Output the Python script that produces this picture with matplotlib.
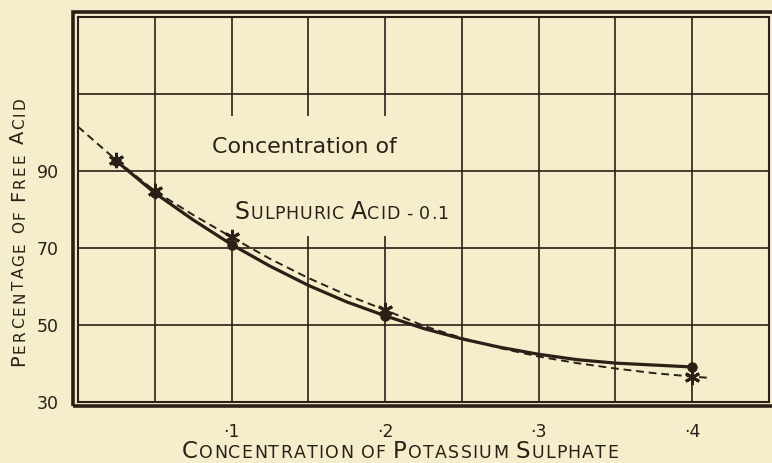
import matplotlib
matplotlib.use("Agg")
import matplotlib.pyplot as plt
from matplotlib.patches import Rectangle
from matplotlib.transforms import IdentityTransform

# ---- data -------------------------------------------------------------
# concentrations of potassium sulphate at which points were determined
conc_points = [0.025, 0.05, 0.1, 0.2, 0.4]
# observed percentage of free acid (dots, solid curve)
observed_pct = [92.6, 84.3, 70.9, 52.4, 39.1]
# calculated percentage of free acid (stars, dashed curve)
calculated_pct = [92.8, 84.8, 72.8, 53.9, 36.6]

# smooth curves drawn through the points
observed_curve_x = [0.025, 0.05, 0.075, 0.1, 0.125, 0.15, 0.175, 0.2, 0.225,
                    0.25, 0.275, 0.3, 0.325, 0.35, 0.375, 0.4]
observed_curve_y = [92.6, 84.3, 77.3, 70.9, 65.3, 60.3, 56.0, 52.4, 49.1,
                    46.4, 44.2, 42.4, 41.0, 40.1, 39.6, 39.1]
calculated_curve_x = [0.0, 0.025, 0.05, 0.075, 0.1, 0.125, 0.15, 0.175, 0.2,
                      0.225, 0.25, 0.275, 0.3, 0.325, 0.35, 0.375, 0.4, 0.41]
calculated_curve_y = [101.5, 92.8, 84.8, 78.6, 72.8, 67.2, 62.2, 57.8, 53.9,
                      49.8, 46.6, 44.0, 41.8, 40.1, 38.7, 37.5, 36.6, 36.3]

x_ticks = [0.1, 0.2, 0.3, 0.4]
x_tick_labels = ["·1", "·2", "·3", "·4"]
y_ticks = [30, 50, 70, 90]
y_tick_labels = ["30", "50", "70", "90"]

grid_x_full = [0.05, 0.25, 0.3, 0.35, 0.4]
grid_x_broken = [0.1, 0.15, 0.2]      # interrupted behind the note
grid_y = [50, 70, 90, 110]

# ---- style ------------------------------------------------------------
PAPER = "#F5EECD"
INK = "#2A2016"
FONT = "DejaVu Sans"
W, H, DPI = 772, 463, 100

fig = plt.figure(figsize=(W / DPI, H / DPI), dpi=DPI, facecolor=PAPER)
ax = fig.add_axes([78 / W, 61 / H, 691 / W, 385 / H])
ax.set_facecolor(PAPER)
ax.set_xlim(0, 0.45)
ax.set_ylim(30, 130)

# squared ruling
for gx in grid_x_full:
    ax.vlines(gx, 30, 130, color=INK, lw=1.2, zorder=1)
for gx in grid_x_broken:
    ax.vlines(gx, 30, 73, color=INK, lw=1.2, zorder=1)
    ax.vlines(gx, 104.3, 130, color=INK, lw=1.2, zorder=1)
ax.hlines(grid_y, 0, 0.45, color=INK, lw=1.2, zorder=1)

for sp in ax.spines.values():
    sp.set_color(INK)
    sp.set_linewidth(1.5)

# outer heavy border
fig.add_artist(Rectangle((73 / W, 57 / H), (780 - 73) / W, (451 - 57) / H,
                         transform=fig.transFigure, fill=False,
                         edgecolor=INK, linewidth=2.6))

# curves
ax.plot(calculated_curve_x, calculated_curve_y, color=INK, lw=1.4,
        dashes=(4, 2.5), zorder=3)
ax.plot(observed_curve_x, observed_curve_y, color=INK, lw=2.3,
        solid_joinstyle="round", solid_capstyle="round", zorder=4)
ax.plot(conc_points, observed_pct, ls="none", marker="o", ms=6.5,
        color=INK, zorder=5)
ax.plot(conc_points, calculated_pct, ls="none", marker=(6, 2, 0), ms=11,
        mew=2.1, color=INK, zorder=5)

ax.set_xticks(x_ticks, x_tick_labels)
ax.set_yticks(y_ticks, y_tick_labels)
ax.tick_params(axis="both", length=0, colors=INK, labelsize=12.5)
ax.tick_params(axis="x", pad=15)
ax.tick_params(axis="y", pad=14)
for lab in ax.get_xticklabels() + ax.get_yticklabels():
    lab.set_family(FONT)

# ---- lettering --------------------------------------------------------
renderer = fig.canvas.get_renderer()


def ink_width(s, size):
    t = fig.text(0, 0, s, fontsize=size, family=FONT)
    w = t.get_window_extent(renderer).width
    t.remove()
    return w


def caps_line(center, base, s, big, small, length, vertical=False):
    """Small-capital lettering: upper-case letters at `big`, the rest
    upper-cased at `small`, spread evenly over `length` pixels."""
    sizes = [big if ch.isupper() else small for ch in s]
    widths = []
    for ch, size in zip(s, sizes):
        if ch == " ":
            widths.append(size * DPI / 72 * 0.3)
        else:
            widths.append(ink_width(ch.upper(), size))
    gap = (length - sum(widths)) / (len(s) - 1)
    pos = center - length / 2
    for ch, size, w in zip(s, sizes, widths):
        if ch != " ":
            if vertical:
                fig.text(base, pos, ch.upper(), fontsize=size, rotation=90,
                         rotation_mode="anchor", ha="left", va="baseline",
                         transform=IdentityTransform(), color=INK, family=FONT)
            else:
                fig.text(pos, base, ch.upper(), fontsize=size,
                         ha="left", va="baseline",
                         transform=IdentityTransform(), color=INK, family=FONT)
        pos += w + gap


# axis titles
caps_line(400, 5, "Concentration of Potassium Sulphate", 16.5, 12.5, 436)
caps_line(231, 24, "Percentage of Free Acid", 14, 11, 269, vertical=True)

# note inside the grid
note1 = "Concentration of"
size1 = 14 * 186 / ink_width(note1, 14)
fig.text(212, H - 153, note1, fontsize=size1, ha="left", va="baseline",
         transform=IdentityTransform(), color=INK, family=FONT)
caps_line((235 + 448) / 2, H - 219, "Sulphuric Acid - 0.1", 17, 12.5, 213)

fig.savefig("out.png", dpi=DPI, facecolor=PAPER)
